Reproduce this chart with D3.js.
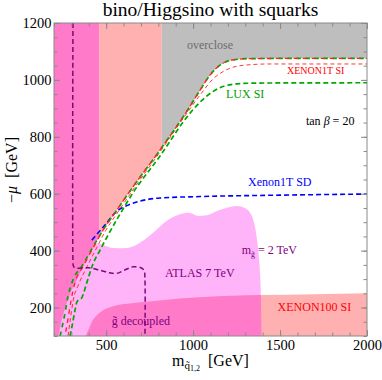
<!DOCTYPE html>
<html>
<head>
<meta charset="utf-8">
<script src="https://cdn.jsdelivr.net/npm/d3@7"></script>
<style>
  body { margin: 0; background: #fff; }
  text { font-family: "Liberation Serif", "DejaVu Serif", serif; }
</style>
</head>
<body>
<svg id="chart" width="382" height="380"></svg>
<script>
const width = 382;
const height = 380;
const margin = { top: 23, right: 15, bottom: 44, left: 54 };

// axes
const xDomain = [200, 2000];
const yDomain = [100, 1200];
const xMajorTicks = [500, 1000, 1500, 2000];
const yMajorTicks = [200, 400, 600, 800, 1000, 1200];
const xMinorTicks = d3.range(200, 2001, 100);
const yMinorTicks = d3.range(100, 1201, 50);

// vertical bands of the excluded (upper-left) region
const bandEdges = [200, 460, 820, 2000];

// edge of the magenta band, lower left
const magentaEdge = [
  [200, 100], [223, 100], [244, 156], [273, 216], [302, 262],
  [331, 297], [378, 357], [417, 402],
];

// outer green dashed curve (edge of overclose region)
const greenOuter = [
  [235, 100], [263, 180], [280, 237], [309, 297], [361, 346], [424, 413],
  [482, 472], [562, 543], [654, 624], [810, 754], [965, 891], [1040, 964],
  [1097, 1017], [1155, 1052], [1224, 1070], [1327, 1075], [2000, 1076],
];

// red dashed curve running on top of the outer green one
const redOuter = [
  [263, 100], [282, 165], [298, 225], [322, 290], [368, 345], [428, 413],
  [482, 472], [562, 543], [654, 624], [810, 754], [965, 891], [1040, 964],
  [1097, 1017], [1155, 1052], [1224, 1070], [1327, 1075], [2000, 1076],
];

// XENON1T SI
const xenon1tSI = [
  [281, 100], [295, 163], [311, 227], [340, 279], [386, 339], [442, 406],
  [493, 466], [568, 536], [666, 624], [810, 747], [965, 884], [1040, 947],
  [1114, 1003], [1201, 1038], [1298, 1052], [1442, 1056], [2000, 1056],
];

// LUX SI
const luxSI = [
  [292, 100], [304, 135], [321, 191], [332, 220], [361, 236], [390, 290],
  [424, 353], [465, 402], [505, 448], [580, 529], [654, 603], [810, 733],
  [965, 870], [1040, 922], [1109, 957], [1183, 979], [1270, 987],
  [1385, 989], [2000, 990],
];

// Xenon1T SD
const xenon1tSD = [
  [418, 437], [493, 490], [562, 539], [626, 560], [695, 574], [810, 585],
  [1040, 590], [1500, 595], [2000, 599],
];

// gluino-decoupled boundary (purple)
const gluinoLine = [
  [309, 1200], [309, 365], [311, 347], [322, 339], [400, 340], [470, 330],
  [520, 322], [560, 320], [610, 333], [654, 343], [700, 340], [718, 330],
  [723, 300], [723, 100],
];

// ATLAS 7 TeV excluded region (upper edge)
const atlasEdge = [
  [210, 100], [232, 156], [261, 216], [290, 262], [319, 297], [366, 357],
  [405, 402], [450, 425], [482, 420], [540, 409], [600, 408], [660, 416],
  [720, 438], [780, 468], [850, 505], [920, 527], [975, 533], [1030, 522],
  [1080, 524], [1140, 540], [1200, 552], [1250, 557], [1300, 549],
  [1335, 525], [1360, 470], [1375, 400], [1385, 320], [1390, 240],
  [1393, 100],
];

// XENON100 SI excluded region (upper edge)
const xenon100Edge = [
  [383, 100], [400, 125], [424, 156], [450, 175], [480, 190], [520, 200],
  [562, 208], [650, 215], [752, 221], [925, 232], [1150, 240], [1400, 244],
  [1700, 247], [2000, 250],
];

const excludedEdge = magentaEdge.concat([[465, 454]], greenOuter.filter((d) => d[0] >= 482));

const svg = d3.select("#chart");

const x = d3.scaleLinear().domain(xDomain).range([margin.left, width - margin.right]);
const y = d3.scaleLinear().domain(yDomain).range([height - margin.bottom, margin.top]);

const magenta = "#ff7ac9";
const salmon = "#ffb0b0";
const lightPink = "#ffb3f8";
const gray = "#bebebe";
const bandColors = [magenta, salmon, gray];

const defs = svg.append("defs");

defs.append("clipPath").attr("id", "plot-clip")
  .append("rect")
  .attr("x", x(xDomain[0])).attr("y", y(yDomain[1]))
  .attr("width", x(xDomain[1]) - x(xDomain[0]))
  .attr("height", y(yDomain[0]) - y(yDomain[1]));

bandEdges.slice(0, -1).forEach((e, i) => {
  defs.append("clipPath").attr("id", `band-${i}`)
    .append("rect")
    .attr("x", x(e)).attr("y", y(yDomain[1]))
    .attr("width", x(bandEdges[i + 1]) - x(e))
    .attr("height", y(yDomain[0]) - y(yDomain[1]));
});

const areaBelow = d3.area()
  .x((d) => x(d[0]))
  .y0(y(yDomain[0]))
  .y1((d) => y(d[1]))
  .curve(d3.curveMonotoneX);

const areaAbove = d3.area()
  .x((d) => x(d[0]))
  .y0(y(yDomain[1]))
  .y1((d) => y(d[1]))
  .curve(d3.curveMonotoneX);

defs.append("clipPath").attr("id", "atlas-clip")
  .append("path").attr("d", areaBelow(atlasEdge));

const regions = svg.append("g").attr("clip-path", "url(#plot-clip)");

// ATLAS
regions.append("path").attr("d", areaBelow(atlasEdge)).attr("fill", lightPink);

// XENON100
regions.append("path").attr("d", areaBelow(xenon100Edge)).attr("fill", salmon);
regions.append("path").attr("d", areaBelow(xenon100Edge)).attr("fill", magenta)
  .attr("clip-path", "url(#atlas-clip)");

// excluded bands
bandColors.forEach((c, i) => {
  regions.append("g").attr("clip-path", `url(#band-${i})`)
    .append("path").attr("d", areaAbove(excludedEdge)).attr("fill", c);
});

// dashed curves
const lineMono = d3.line().x((d) => x(d[0])).y((d) => y(d[1])).curve(d3.curveMonotoneX);
const lineFree = d3.line().x((d) => x(d[0])).y((d) => y(d[1])).curve(d3.curveCatmullRom.alpha(0.5));

const lines = svg.append("g").attr("clip-path", "url(#plot-clip)").attr("fill", "none");

lines.append("path").attr("d", lineMono(xenon1tSD))
  .attr("stroke", "#0000ff").attr("stroke-width", 1.6).attr("stroke-dasharray", "5,3");
lines.append("path").attr("d", lineMono(luxSI))
  .attr("stroke", "#00a800").attr("stroke-width", 1.7).attr("stroke-dasharray", "5,3");
lines.append("path").attr("d", lineMono(xenon1tSI))
  .attr("stroke", "#ff2020").attr("stroke-width", 0.9).attr("stroke-dasharray", "4,3");
lines.append("path").attr("d", lineMono(greenOuter))
  .attr("stroke", "#00a800").attr("stroke-width", 1.7).attr("stroke-dasharray", "4.5,4.5");
lines.append("path").attr("d", lineMono(redOuter))
  .attr("stroke", "#ff2020").attr("stroke-width", 1.3).attr("stroke-dasharray", "4.5,4.5")
  .attr("stroke-dashoffset", 4.5);
lines.append("path").attr("d", lineFree(gluinoLine))
  .attr("stroke", "#7a0a7a").attr("stroke-width", 1.5).attr("stroke-dasharray", "5,3");

// annotations
const ann = svg.append("g").attr("font-size", 12);

ann.append("text").attr("x", x(965)).attr("y", y(1108)).attr("fill", "#6c6c6c").text("overclose");
ann.append("text").attr("x", x(1540)).attr("y", y(1021)).attr("fill", "#ff0000").attr("font-size", 10).text("XENON1T SI");
ann.append("text").attr("x", x(1189)).attr("y", y(936)).attr("fill", "#00a000").text("LUX SI");

const tb = ann.append("text").attr("x", x(1649)).attr("y", y(843)).attr("fill", "#000");
tb.append("tspan").text("tan ");
tb.append("tspan").attr("font-style", "italic").text("β");
tb.append("tspan").text(" = 20");

ann.append("text").attr("x", x(1316)).attr("y", y(627)).attr("fill", "#0000ff").text("Xenon1T SD");

const mg = ann.append("text").attr("x", x(1279)).attr("y", y(388)).attr("fill", "#800080");
mg.append("tspan").text("m");
mg.append("tspan").attr("font-size", 8).attr("dy", 3).text("g\u0303");
mg.append("tspan").attr("dy", -3).text(" = 2 TeV");

ann.append("text").attr("x", x(838)).attr("y", y(308)).attr("fill", "#800080").text("ATLAS 7 TeV");
ann.append("text").attr("x", x(1486)).attr("y", y(188)).attr("fill", "#ff0000").text("XENON100 SI");
ann.append("text").attr("x", x(532)).attr("y", y(139)).attr("fill", "#800080").text("g\u0303 decoupled");

// frame and ticks
const frame = svg.append("g").attr("class", "frame");
const plotW = x.range()[1] - x.range()[0];
const plotH = y.range()[0] - y.range()[1];

function drawAxis(axisFn, transform, scale, major, minor, labels, pad) {
  const g = frame.append("g").attr("transform", transform);
  g.call(axisFn(scale).tickValues(minor).tickSizeInner(-3.5).tickSizeOuter(0).tickFormat(""));
  g.select(".domain").remove();
  const gm = frame.append("g").attr("transform", transform);
  gm.call(axisFn(scale).tickValues(major).tickSizeInner(-6).tickSizeOuter(0)
    .tickPadding(pad).tickFormat(labels ? d3.format("d") : ""));
  gm.select(".domain").remove();
  gm.selectAll("text").attr("font-size", 14.5).attr("fill", "#000")
    .attr("font-family", "Liberation Serif, DejaVu Serif, serif");
  frame.selectAll(".tick line").attr("stroke", "#8a8a8a");
}

drawAxis(d3.axisBottom, `translate(0,${y.range()[0]})`, x, xMajorTicks, xMinorTicks, true, 4);
drawAxis(d3.axisTop, `translate(0,${y.range()[1]})`, x, xMajorTicks, xMinorTicks, false, 0);
drawAxis(d3.axisLeft, `translate(${x.range()[0]},0)`, y, yMajorTicks, yMinorTicks, true, 2.5);
drawAxis(d3.axisRight, `translate(${x.range()[1]},0)`, y, yMajorTicks, yMinorTicks, false, 0);

frame.append("rect")
  .attr("x", x.range()[0]).attr("y", y.range()[1])
  .attr("width", plotW).attr("height", plotH)
  .attr("fill", "none").attr("stroke", "#8a8a8a").attr("stroke-width", 1);

// title
svg.append("text")
  .attr("x", (x.range()[0] + x.range()[1]) / 2)
  .attr("y", 16)
  .attr("text-anchor", "middle")
  .attr("font-size", 19.5)
  .text("bino/Higgsino with squarks");

// x label
const xl = svg.append("text")
  .attr("x", (x.range()[0] + x.range()[1]) / 2)
  .attr("y", 366)
  .attr("text-anchor", "middle")
  .attr("font-size", 16)
  .style("white-space", "pre");
xl.append("tspan").text("m");
xl.append("tspan").attr("font-size", 11).attr("dy", 3).text("q\u0303");
xl.append("tspan").attr("font-size", 8).attr("dy", 2).text("1,2");
xl.append("tspan").attr("dy", -5).text("  [GeV]");

// y label
const yl = svg.append("text")
  .attr("transform", `translate(16.5,170) rotate(-90)`)
  .attr("text-anchor", "middle")
  .attr("font-size", 16)
  .style("white-space", "pre");
yl.append("tspan").text("\u2212");
yl.append("tspan").attr("font-style", "italic").text("μ");
yl.append("tspan").text("  [GeV]");
</script>
</body>
</html>
